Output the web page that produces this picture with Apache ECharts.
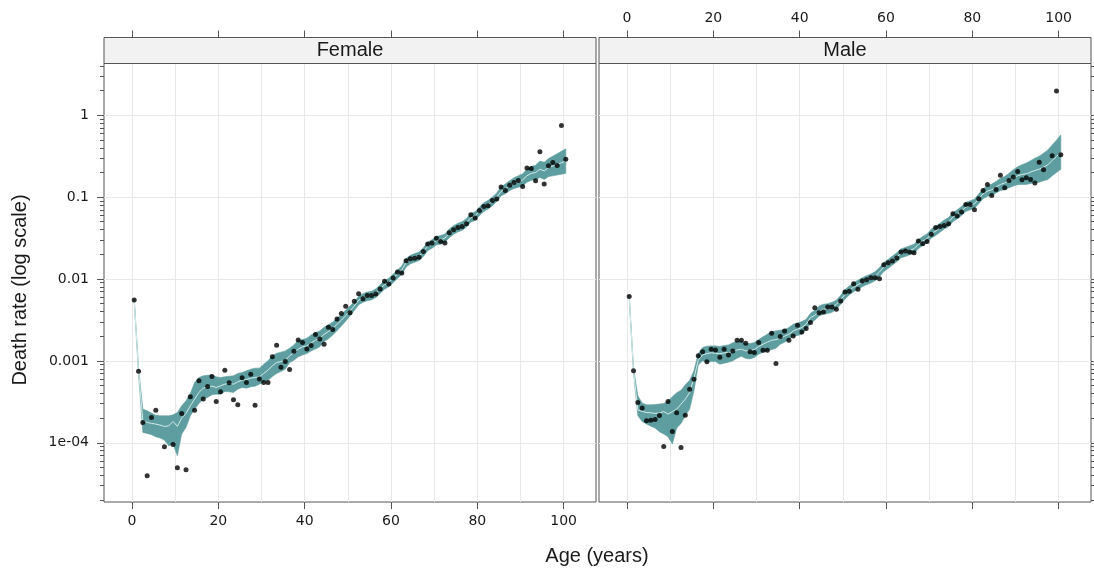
<!DOCTYPE html>
<html>
<head>
<meta charset="utf-8">
<script src="https://cdn.jsdelivr.net/npm/echarts@6.0.0/dist/echarts.min.js"></script>
<style>
  html, body { margin: 0; padding: 0; background: #fff; }
  #chart { width: 1094px; height: 574px; }
</style>
</head>
<body>
<div id="chart"></div>
<script>
// age-group midpoints (years)
const ageMid = [
  0.5, 1.5, 2.5, 3.5, 4.5, 5.5, 6.5, 7.5, 8.5, 9.5,
  10.5, 11.5, 12.5, 13.5, 14.5, 15.5, 16.5, 17.5, 18.5, 19.5,
  20.5, 21.5, 22.5, 23.5, 24.5, 25.5, 26.5, 27.5, 28.5, 29.5,
  30.5, 31.5, 32.5, 33.5, 34.5, 35.5, 36.5, 37.5, 38.5, 39.5,
  40.5, 41.5, 42.5, 43.5, 44.5, 45.5, 46.5, 47.5, 48.5, 49.5,
  50.5, 51.5, 52.5, 53.5, 54.5, 55.5, 56.5, 57.5, 58.5, 59.5,
  60.5, 61.5, 62.5, 63.5, 64.5, 65.5, 66.5, 67.5, 68.5, 69.5,
  70.5, 71.5, 72.5, 73.5, 74.5, 75.5, 76.5, 77.5, 78.5, 79.5,
  80.5, 81.5, 82.5, 83.5, 84.5, 85.5, 86.5, 87.5, 88.5, 89.5,
  90.5, 91.5, 92.5, 93.5, 94.5, 95.5, 96.5, 97.5, 98.5, 99.5,
  100.5
];

// observed death rates, log10 (null = no deaths recorded)
const femaleObsLog10 = [
  -2.256, -3.126, -3.752, -4.402, -3.691, -3.602, null, -4.049, null, -4.020,
  -4.305, -3.642, -4.329, -3.439, -3.602, -3.244, -3.467, -3.313, -3.191, -3.496,
  -3.378, -3.114, -3.268, -3.476, -3.537, -3.207, -3.264, -3.163, -3.541, -3.220,
  -3.264, -3.264, -2.951, -2.809, -3.077, -3.008, -3.106, -2.882, -2.744, -2.776,
  -2.854, -2.813, -2.679, -2.732, -2.797, -2.589, -2.618, -2.488, -2.423, -2.333,
  -2.411, -2.272, -2.179, -2.240, -2.203, -2.203, -2.183, -2.122, -2.028, -2.061,
  -1.988, -1.915, -1.927, -1.776, -1.752, -1.748, -1.736, -1.663, -1.573, -1.561,
  -1.504, -1.541, -1.561, -1.435, -1.398, -1.370, -1.358, -1.325, -1.215, -1.256,
  -1.163, -1.114, -1.106, -1.041, -1.024, -0.878, -0.919, -0.854, -0.821, -0.797,
  -0.870, -0.646, -0.650, -0.801, -0.447, -0.841, -0.618, -0.577, -0.614, -0.126,
  -0.537
];
const maleObsLog10 = [
  -2.215, -3.122, -3.508, -3.577, -3.732, -3.724, -3.715, -3.667, -4.045, -3.496,
  -3.862, -3.634, -4.057, -3.663, -3.346, -3.224, -2.939, -2.890, -3.012, -2.858,
  -2.866, -2.955, -2.858, -2.927, -2.878, -2.748, -2.748, -2.785, -2.890, -2.898,
  -2.776, -2.870, -2.870, -2.663, -3.033, -2.703, -2.634, -2.748, -2.695, -2.565,
  -2.646, -2.606, -2.533, -2.350, -2.411, -2.402, -2.341, -2.341, -2.370, -2.268,
  -2.159, -2.150, -2.057, -2.126, -2.024, -2.008, -1.984, -1.984, -1.996, -1.825,
  -1.801, -1.780, -1.744, -1.671, -1.659, -1.671, -1.679, -1.537, -1.569, -1.541,
  -1.455, -1.370, -1.358, -1.346, -1.325, -1.203, -1.232, -1.183, -1.089, -1.089,
  -1.154, -1.020, -0.919, -0.846, -0.980, -0.907, -0.732, -0.886, -0.797, -0.756,
  -0.687, -0.789, -0.764, -0.785, -0.829, -0.573, -0.667, null, -0.494, 0.297,
  -0.482
];

// fitted rates (posterior median and 95% band), log10
const femaleMedLog10 = [
  -2.255, -3.120, -3.730, -3.752, -3.764, -3.772, -3.785, -3.801, -3.793, -3.740,
  -3.800, -3.699, -3.642, -3.549, -3.467, -3.386, -3.333, -3.317, -3.309, -3.325,
  -3.305, -3.285, -3.272, -3.285, -3.256, -3.236, -3.228, -3.211, -3.203, -3.195,
  -3.154, -3.114, -3.061, -3.020, -3.008, -2.992, -2.939, -2.898, -2.858, -2.829,
  -2.817, -2.780, -2.748, -2.724, -2.675, -2.642, -2.602, -2.553, -2.504, -2.447,
  -2.390, -2.330, -2.260, -2.230, -2.210, -2.200, -2.170, -2.120, -2.070, -2.040,
  -1.990, -1.940, -1.890, -1.800, -1.760, -1.740, -1.720, -1.670, -1.600, -1.570,
  -1.530, -1.520, -1.500, -1.440, -1.400, -1.370, -1.350, -1.310, -1.250, -1.230,
  -1.170, -1.120, -1.090, -1.050, -1.000, -0.930, -0.900, -0.860, -0.830, -0.810,
  -0.790, -0.740, -0.710, -0.700, -0.660, -0.680, -0.640, -0.620, -0.600, -0.580,
  -0.560
];
const femaleLowLog10 = [
  -2.270, -3.160, -3.874, -3.886, -3.902, -3.927, -3.943, -3.967, -4.037, -4.016,
  -4.159, -3.894, -3.813, -3.671, -3.589, -3.520, -3.467, -3.447, -3.415, -3.407,
  -3.407, -3.374, -3.378, -3.386, -3.346, -3.325, -3.333, -3.317, -3.309, -3.285,
  -3.256, -3.236, -3.191, -3.154, -3.130, -3.102, -3.020, -2.992, -2.951, -2.927,
  -2.911, -2.878, -2.854, -2.829, -2.765, -2.730, -2.685, -2.630, -2.575, -2.515,
  -2.450, -2.385, -2.315, -2.285, -2.265, -2.255, -2.225, -2.175, -2.125, -2.095,
  -2.045, -1.995, -1.945, -1.855, -1.815, -1.795, -1.775, -1.725, -1.655, -1.625,
  -1.585, -1.575, -1.555, -1.495, -1.455, -1.425, -1.405, -1.365, -1.305, -1.285,
  -1.225, -1.175, -1.145, -1.105, -1.055, -0.985, -0.960, -0.920, -0.895, -0.880,
  -0.865, -0.820, -0.795, -0.790, -0.760, -0.785, -0.750, -0.740, -0.730, -0.720,
  -0.710
];
const femaleUpLog10 = [
  -2.240, -3.080, -3.589, -3.610, -3.638, -3.663, -3.671, -3.671, -3.671, -3.659,
  -3.630, -3.549, -3.488, -3.398, -3.264, -3.203, -3.183, -3.175, -3.171, -3.195,
  -3.203, -3.195, -3.187, -3.183, -3.154, -3.142, -3.122, -3.102, -3.089, -3.089,
  -3.041, -3.000, -2.939, -2.907, -2.894, -2.878, -2.846, -2.805, -2.748, -2.740,
  -2.724, -2.683, -2.654, -2.634, -2.590, -2.560, -2.525, -2.480, -2.435, -2.380,
  -2.330, -2.280, -2.210, -2.180, -2.160, -2.150, -2.120, -2.070, -2.020, -1.990,
  -1.940, -1.890, -1.840, -1.750, -1.710, -1.690, -1.670, -1.620, -1.550, -1.520,
  -1.480, -1.470, -1.450, -1.390, -1.350, -1.320, -1.300, -1.260, -1.200, -1.180,
  -1.120, -1.070, -1.040, -1.000, -0.950, -0.875, -0.840, -0.800, -0.765, -0.740,
  -0.715, -0.660, -0.625, -0.610, -0.560, -0.575, -0.530, -0.500, -0.470, -0.440,
  -0.410
];
const maleMedLog10 = [
  -2.215, -3.120, -3.598, -3.618, -3.630, -3.634, -3.642, -3.638, -3.618, -3.650,
  -3.620, -3.589, -3.528, -3.467, -3.386, -3.211, -2.992, -2.927, -2.911, -2.902,
  -2.907, -2.915, -2.902, -2.898, -2.886, -2.866, -2.858, -2.878, -2.874, -2.862,
  -2.825, -2.797, -2.772, -2.748, -2.740, -2.724, -2.699, -2.675, -2.634, -2.614,
  -2.593, -2.553, -2.472, -2.443, -2.398, -2.370, -2.362, -2.346, -2.310, -2.250,
  -2.190, -2.140, -2.100, -2.070, -2.040, -2.015, -1.996, -1.967, -1.915, -1.854,
  -1.813, -1.772, -1.732, -1.687, -1.671, -1.650, -1.630, -1.577, -1.537, -1.508,
  -1.447, -1.415, -1.374, -1.337, -1.305, -1.244, -1.211, -1.171, -1.122, -1.102,
  -1.081, -1.020, -0.959, -0.927, -0.911, -0.878, -0.846, -0.829, -0.797, -0.764,
  -0.740, -0.724, -0.715, -0.695, -0.675, -0.659, -0.634, -0.606, -0.553, -0.504,
  -0.451
];
const maleLowLog10 = [
  -2.230, -3.150, -3.671, -3.740, -3.772, -3.797, -3.821, -3.866, -3.894, -3.927,
  -4.016, -3.821, -3.764, -3.671, -3.589, -3.366, -3.049, -3.000, -3.016, -3.008,
  -3.008, -3.041, -3.028, -3.016, -3.000, -2.967, -2.943, -2.972, -2.976, -2.959,
  -2.919, -2.894, -2.878, -2.862, -2.846, -2.797, -2.772, -2.740, -2.695, -2.691,
  -2.675, -2.614, -2.545, -2.504, -2.451, -2.431, -2.423, -2.407, -2.370, -2.310,
  -2.245, -2.195, -2.155, -2.125, -2.095, -2.070, -2.050, -2.020, -1.970, -1.910,
  -1.870, -1.830, -1.790, -1.740, -1.725, -1.705, -1.685, -1.630, -1.590, -1.560,
  -1.500, -1.470, -1.430, -1.390, -1.360, -1.300, -1.265, -1.225, -1.175, -1.155,
  -1.135, -1.080, -1.020, -0.990, -0.980, -0.950, -0.920, -0.910, -0.885, -0.865,
  -0.850, -0.845, -0.845, -0.835, -0.825, -0.820, -0.800, -0.785, -0.740, -0.700,
  -0.660
];
const maleUpLog10 = [
  -2.200, -3.090, -3.427, -3.516, -3.537, -3.537, -3.533, -3.528, -3.520, -3.488,
  -3.439, -3.390, -3.358, -3.293, -3.236, -3.122, -2.911, -2.837, -2.821, -2.817,
  -2.817, -2.825, -2.813, -2.805, -2.780, -2.764, -2.756, -2.789, -2.789, -2.776,
  -2.740, -2.707, -2.675, -2.642, -2.634, -2.626, -2.618, -2.593, -2.553, -2.537,
  -2.520, -2.492, -2.419, -2.382, -2.329, -2.309, -2.301, -2.285, -2.260, -2.200,
  -2.130, -2.085, -2.045, -2.015, -1.985, -1.960, -1.940, -1.910, -1.860, -1.800,
  -1.760, -1.720, -1.680, -1.630, -1.615, -1.595, -1.575, -1.520, -1.480, -1.450,
  -1.390, -1.360, -1.320, -1.280, -1.250, -1.190, -1.155, -1.115, -1.065, -1.045,
  -1.025, -0.960, -0.900, -0.860, -0.840, -0.810, -0.770, -0.750, -0.710, -0.665,
  -0.630, -0.605, -0.585, -0.555, -0.525, -0.500, -0.465, -0.425, -0.365, -0.305,
  -0.240
];

const panels = ['Female', 'Male'];
const xTicks = [0, 20, 40, 60, 80, 100];
const xGrid = [0, 10, 20, 30, 40, 50, 60, 70, 80, 90, 100];
const yTickValues = [1e-4, 1e-3, 1e-2, 1e-1, 1];
const yTickLabels = ['1e-04', '0.001', '0.01', '0.1', '1'];

const X_MIN = -6.5, X_MAX = 107.5;
const Y_MIN = 1.89e-5, Y_MAX = 4.28;
const BAND = '#5f9ea0';
const MED = '#d3ebe8';
const EDGE = '#555555';
const GRIDLINE = '#e8e8e8';
const TXT = '#1a1a1a';

// minor log ticks: 2..9 in each decade
const yMinor = [];
for (let e = -5; e <= 0; e++) {
  for (let m = 2; m <= 9; m++) yMinor.push(m * Math.pow(10, e));
}

const toRate = v => (v == null ? null : Math.pow(10, v));
const pts = logs => ageMid.map((a, i) => [a, toRate(logs[i])]).filter(p => p[1] != null);

const chart = echarts.init(document.getElementById('chart'), null, { renderer: 'canvas' });

const G = [
  { left: 104, top: 63.5, width: 492, height: 438.5 },
  { left: 599, top: 63.5, width: 492, height: 438.5 }
];

function xAxes(gi, labelsBottom) {
  const base = { type: 'value', gridIndex: gi, min: X_MIN, max: X_MAX,
    axisLine: { show: false, onZero: false }, splitLine: { show: false } };
  const tick = { show: true, length: 7, customValues: xTicks, lineStyle: { color: EDGE } };
  const lab = (show, m) => ({ show: show, customValues: xTicks, margin: m, color: TXT,
    fontFamily: 'DejaVu Sans', fontSize: 14 });
  return [
    Object.assign({}, base, { position: 'bottom', axisTick: tick, axisLabel: lab(labelsBottom, 12) }),
    Object.assign({}, base, { position: 'top', offset: 26, axisTick: tick, axisLabel: lab(!labelsBottom, 12) }),
    Object.assign({}, base, { position: 'bottom',
      axisTick: { show: false, customValues: xGrid }, axisLabel: { show: false },
      splitLine: { show: true, lineStyle: { color: GRIDLINE, width: 1 } } })
  ];
}

function yAxes(gi, side, withLabels) {
  const base = { type: 'log', logBase: 10, gridIndex: gi, min: Y_MIN, max: Y_MAX, position: side,
    axisLine: { show: false, onZero: false }, splitLine: { show: false } };
  return [
    Object.assign({}, base, {
      axisTick: { show: true, length: 7, customValues: yTickValues, lineStyle: { color: EDGE } },
      axisLabel: { show: withLabels, customValues: yTickValues, margin: 15, color: TXT,
        fontFamily: 'DejaVu Sans', fontSize: 14,
        formatter: v => {
          const k = yTickValues.findIndex(t => Math.abs(Math.log10(v) - Math.log10(t)) < 1e-6);
          return k >= 0 ? yTickLabels[k] : '';
        } },
      splitLine: { show: true, lineStyle: { color: GRIDLINE, width: 1 } }
    }),
    Object.assign({}, base, {
      axisTick: { show: true, length: 4, customValues: yMinor, lineStyle: { color: EDGE } },
      axisLabel: { show: false }
    })
  ];
}

function bandSeries(xi, yi, lowLog, upLog) {
  return {
    type: 'custom', xAxisIndex: xi, yAxisIndex: yi, silent: true, z: 1,
    data: [[ageMid[0], toRate(lowLog[0])]],
    renderItem: (params, api) => {
      const poly = [];
      for (let i = 0; i < ageMid.length; i++) poly.push(api.coord([ageMid[i], toRate(upLog[i])]));
      for (let i = ageMid.length - 1; i >= 0; i--) poly.push(api.coord([ageMid[i], toRate(lowLog[i])]));
      return { type: 'polygon', shape: { points: poly }, style: { fill: BAND, stroke: BAND, lineWidth: 0.6 } };
    }
  };
}

function panelSeries(xi, yi, obs, med, low, up) {
  return [
    bandSeries(xi, yi, low, up),
    { type: 'line', xAxisIndex: xi, yAxisIndex: yi, z: 2, silent: true, showSymbol: false,
      data: ageMid.map((a, i) => [a, toRate(med[i])]),
      lineStyle: { color: MED, width: 1 } },
    { type: 'scatter', xAxisIndex: xi, yAxisIndex: yi, z: 3, silent: true,
      symbol: 'circle', symbolSize: 5, itemStyle: { color: '#000' },
      data: pts(obs) }
  ];
}

function strip(gi, name) {
  const g = G[gi];
  return [
    { type: 'rect', shape: { x: g.left, y: 37.5, width: g.width, height: 26 },
      style: { fill: '#f2f2f2', stroke: EDGE, lineWidth: 1 }, z: 10 },
    { type: 'text', x: g.left + g.width / 2, y: 50.5, z: 11,
      style: { text: name, fill: TXT, font: '20px "Liberation Sans"', align: 'center', verticalAlign: 'middle' } }
  ];
}

const option = {
  animation: false,
  backgroundColor: '#fff',
  grid: G.map(g => Object.assign({ show: true, borderColor: EDGE, borderWidth: 1,
    backgroundColor: 'transparent', containLabel: false }, g)),
  xAxis: [].concat(xAxes(0, true), xAxes(1, false)),
  yAxis: [].concat(yAxes(0, 'left', true), yAxes(1, 'right', false)),
  series: [].concat(
    panelSeries(2, 0, femaleObsLog10, femaleMedLog10, femaleLowLog10, femaleUpLog10),
    panelSeries(5, 2, maleObsLog10, maleMedLog10, maleLowLog10, maleUpLog10)
  ),
  graphic: [].concat(
    strip(0, panels[0]),
    strip(1, panels[1]),
    [
      { type: 'text', x: 597, y: 556, style: { text: 'Age (years)', fill: TXT,
        font: '20px "Liberation Sans"', align: 'center', verticalAlign: 'middle' } },
      { type: 'text', x: 20, y: 290, rotation: Math.PI / 2, style: { text: 'Death rate (log scale)', fill: TXT,
        font: '20px "Liberation Sans"', align: 'center', verticalAlign: 'middle' } }
    ]
  )
};

chart.setOption(option);
</script>
</body>
</html>
